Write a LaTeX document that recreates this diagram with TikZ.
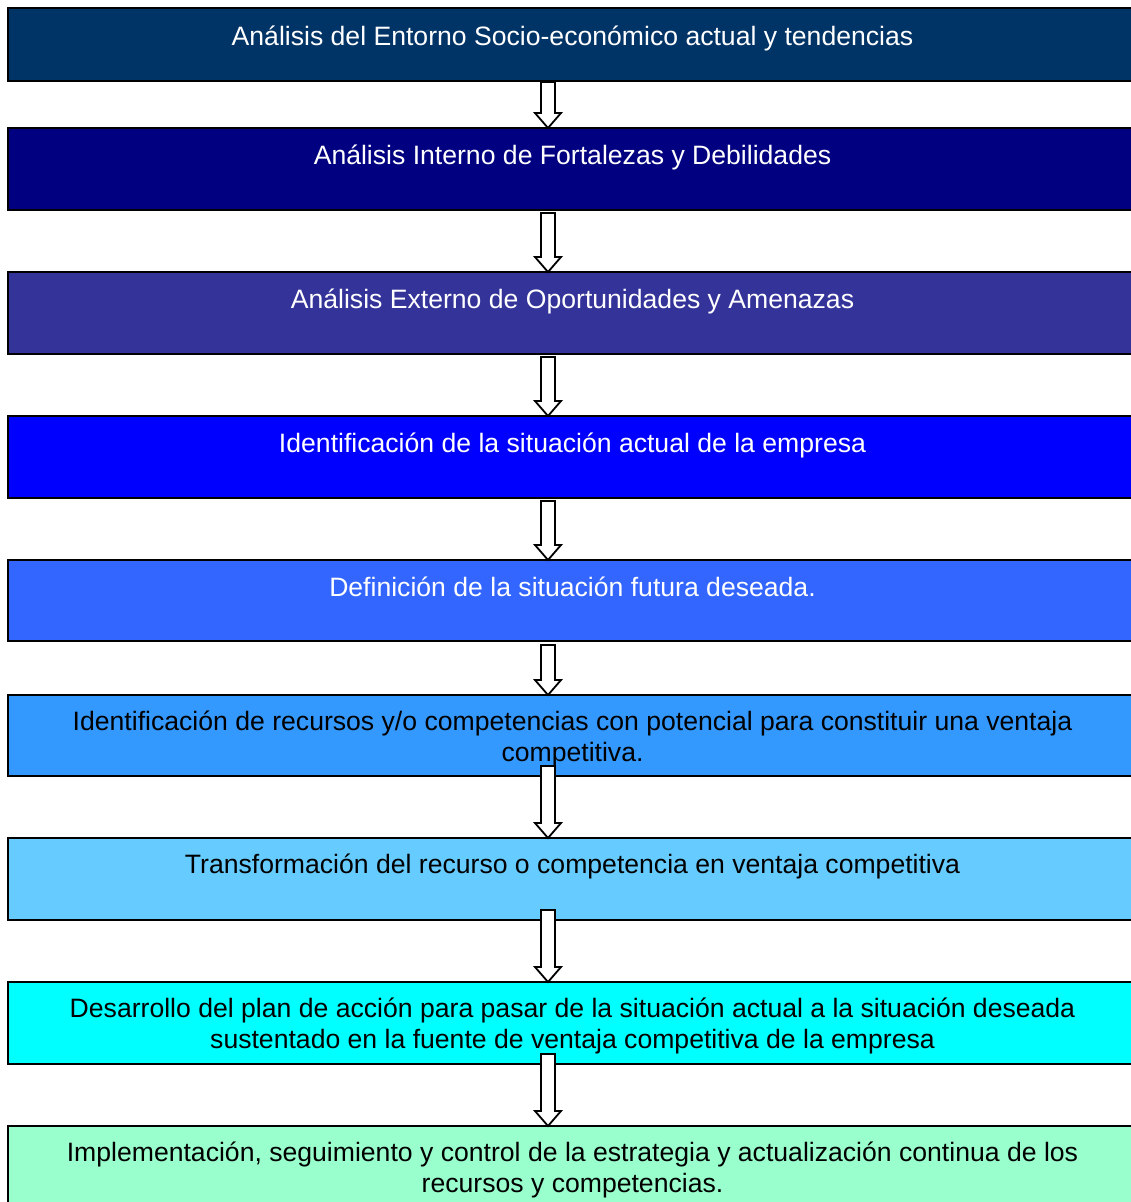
\documentclass[tikz,border=0pt]{standalone}
\usepackage{fontspec}
\setmainfont{Liberation Sans}
\usetikzlibrary{calc}

\definecolor{cA}{HTML}{003366}
\definecolor{cB}{HTML}{000080}
\definecolor{cC}{HTML}{333399}
\definecolor{cD}{HTML}{0000FF}
\definecolor{cE}{HTML}{3366FF}
\definecolor{cF}{HTML}{3399FF}
\definecolor{cG}{HTML}{66CCFF}
\definecolor{cH}{HTML}{00FFFF}
\definecolor{cI}{HTML}{99FFCC}

\tikzset{
  stage/.style={draw=black, line width=2pt, rectangle, anchor=north west,
    minimum width=1132pt, inner sep=0pt, outer sep=0pt},
  stagetext/.style={anchor=north, inner sep=0pt, align=center,
    font=\fontsize{26.6}{31}\selectfont},
  blockarrow/.style={draw=black, fill=white, line width=1.8pt, line join=miter}
}

% hollow block arrow from #1 (tail) to #2 (tip)
\newcommand\flowarrow[2]{%
  \draw[blockarrow] ($(#1)+(-7,0)$) -- ($(#2)+(-7,-15)$) -- ($(#2)+(-13,-15)$)
    -- (#2) -- ($(#2)+(13,-15)$) -- ($(#2)+(7,-15)$) -- ($(#1)+(7,0)$) -- cycle;}

\begin{document}
\begin{tikzpicture}[x=1pt, y=-1pt]
  \useasboundingbox (0,0) rectangle (1131,1202);
  \clip (0,0) rectangle (1131,1202);
  \fill[white] (0,0) rectangle (1131,1202);

  % stage boxes
  \node[stage, fill=cA, minimum height=73pt] (b1) at (8,8) {};
  \node[stage, fill=cB, minimum height=82pt] (b2) at (8,128) {};
  \node[stage, fill=cC, minimum height=82pt] (b3) at (8,272) {};
  \node[stage, fill=cD, minimum height=82pt] (b4) at (8,416) {};
  \node[stage, fill=cE, minimum height=81pt] (b5) at (8,560) {};
  \node[stage, fill=cF, minimum height=81pt] (b6) at (8,695) {};
  \node[stage, fill=cG, minimum height=82pt] (b7) at (8,838) {};
  \node[stage, fill=cH, minimum height=82pt] (b8) at (8,982) {};
  \node[stage, fill=cI, minimum height=90pt] (b9) at (8,1126) {};

  % stage labels
  \node[stagetext, text=white] (t1) at (572.5,23.3)
    {\strut Análisis del Entorno Socio-económico actual y tendencias};
  \node[stagetext, text=white] (t2) at (572.5,142.3)
    {\strut Análisis Interno de Fortalezas y Debilidades};
  \node[stagetext, text=white] (t3) at (572.5,286.3)
    {\strut Análisis Externo de Oportunidades y Amenazas};
  \node[stagetext, text=white] (t4) at (572.5,430.3)
    {\strut Identificación de la situación actual de la empresa};
  \node[stagetext, text=white] (t5) at (572.5,574.3)
    {\strut Definición de la situación futura deseada.};
  \node[stagetext, text=black] (t6) at (572.5,708.8)
    {\strut Identificación de recursos y/o competencias con potencial para constituir una ventaja\\
     \strut competitiva.};
  \node[stagetext, text=black] (t7) at (572.5,851.8)
    {\strut Transformación del recurso o competencia en ventaja competitiva};
  \node[stagetext, text=black] (t8) at (572.5,995.8)
    {\strut Desarrollo del plan de acción para pasar de la situación actual a la situación deseada\\
     \strut sustentado en la fuente de ventaja competitiva de la empresa};
  \node[stagetext, text=black] (t9) at (572.5,1139.8)
    {\strut Implementación, seguimiento y control de la estrategia y actualización continua de los\\
     \strut recursos y competencias.};

  % arrow column
  \coordinate (ax) at (548,0);
  \coordinate (s1) at ($(b1.south -| ax)+(0,1)$);
  \coordinate (s2) at ($(b2.south -| ax)+(0,3)$);
  \coordinate (s3) at ($(b3.south -| ax)+(0,3)$);
  \coordinate (s4) at ($(b4.south -| ax)+(0,3)$);
  \coordinate (s5) at ($(b5.south -| ax)+(0,4)$);
  \coordinate (s6) at ($(b6.south -| ax)+(0,-10)$);
  \coordinate (s7) at ($(b7.south -| ax)+(0,-10)$);
  \coordinate (s8) at ($(b8.south -| ax)+(0,-10)$);
  \coordinate (e2) at (b2.north -| ax);
  \coordinate (e3) at (b3.north -| ax);
  \coordinate (e4) at (b4.north -| ax);
  \coordinate (e5) at (b5.north -| ax);
  \coordinate (e6) at (b6.north -| ax);
  \coordinate (e7) at (b7.north -| ax);
  \coordinate (e8) at (b8.north -| ax);
  \coordinate (e9) at (b9.north -| ax);

  \flowarrow{s1}{e2}
  \flowarrow{s2}{e3}
  \flowarrow{s3}{e4}
  \flowarrow{s4}{e5}
  \flowarrow{s5}{e6}
  \flowarrow{s6}{e7}
  \flowarrow{s7}{e8}
  \flowarrow{s8}{e9}
\end{tikzpicture}
\end{document}
